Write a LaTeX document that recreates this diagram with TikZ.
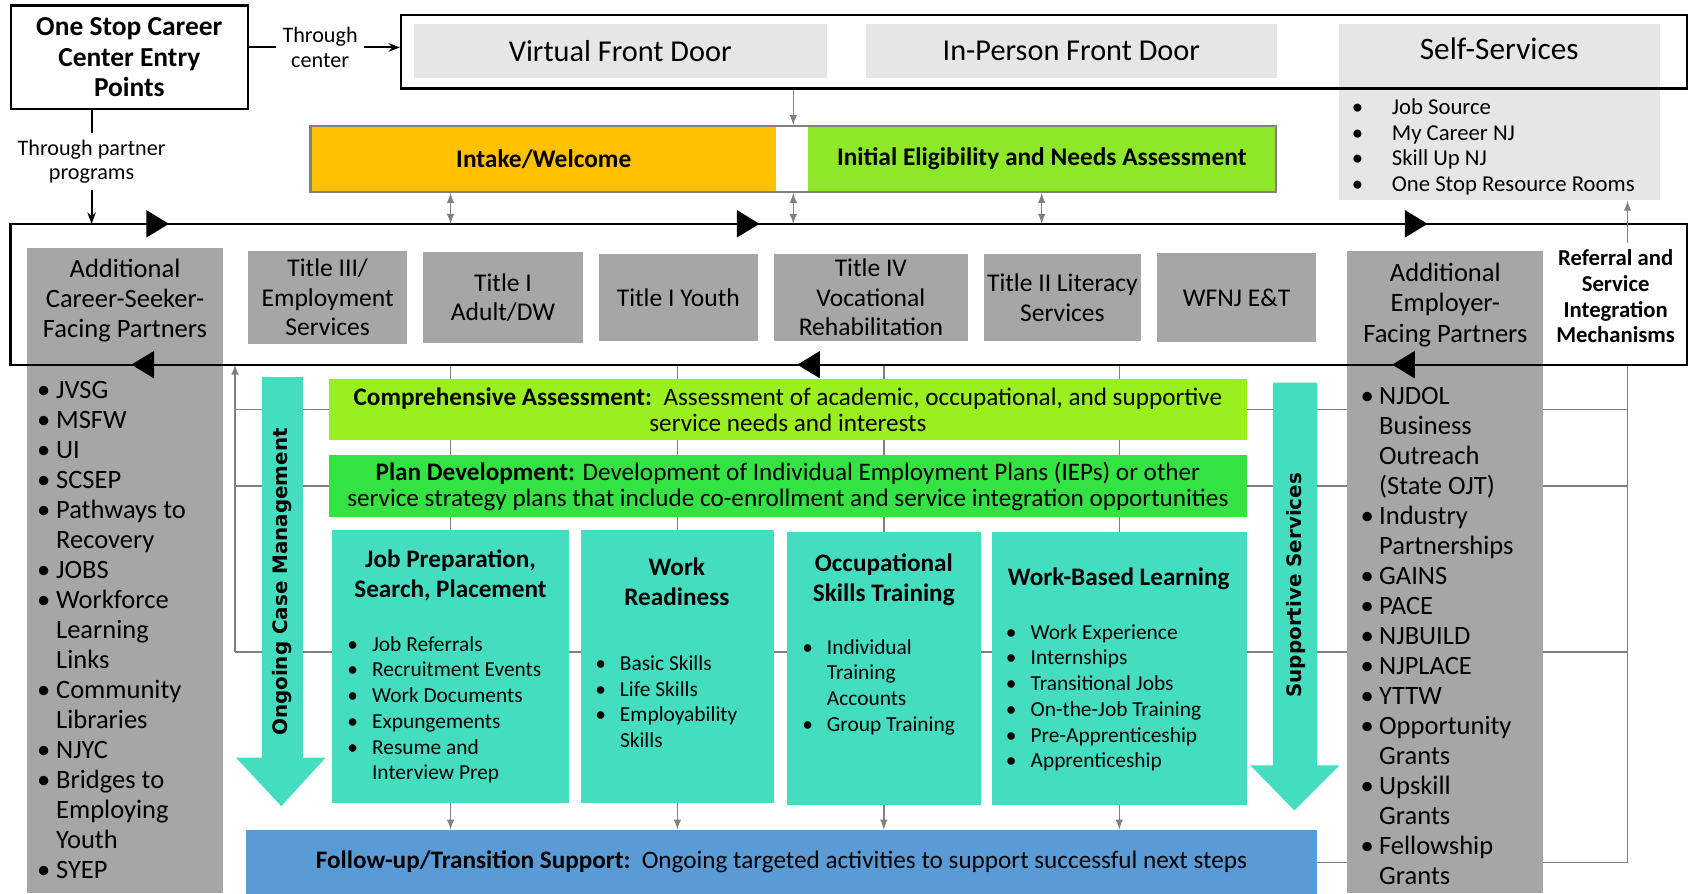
\documentclass[tikz,border=0pt]{standalone}
\usepackage{fontspec}
\setmainfont{Carlito}
\newfontfamily\widesans{DejaVu Sans}
\usetikzlibrary{arrows,arrows.meta,positioning,backgrounds,decorations.markings}

\definecolor{doorgray}{HTML}{E6E6E6}
\definecolor{partgray}{HTML}{A6A6A6}
\definecolor{linegray}{HTML}{808080}
\definecolor{intakeorange}{HTML}{FFC000}
\definecolor{needsgreen}{HTML}{8EE82A}
\definecolor{assessgreen}{HTML}{9AF01E}
\definecolor{plangreen}{HTML}{34E244}
\definecolor{serviceteal}{HTML}{44DDC0}
\definecolor{followblue}{HTML}{5B9BD5}

\tikzstyle{boxline}=[draw=black,line width=1.2pt]
\tikzstyle{door}=[rectangle,fill=doorgray,font=\fontsize{16}{19}\selectfont]
\tikzstyle{program}=[rectangle,fill=partgray,align=center,inner sep=0pt,
font=\fontsize{13.5}{15.6}\selectfont]
\tikzstyle{partner}=[rectangle,fill=partgray,inner sep=0pt]
\tikzstyle{band}=[rectangle,inner sep=0pt,font=\bfseries\fontsize{13.4}{15}\selectfont]
\tikzstyle{stage}=[rectangle,align=center,inner sep=0pt,font=\fontsize{13.3}{13.6}\selectfont]
\tikzstyle{service}=[rectangle,fill=serviceteal,inner sep=0pt]
\tikzstyle{servtitle}=[align=center,font=\bfseries\fontsize{13.3}{15.9}\selectfont]
\tikzstyle{bullets}=[anchor=base west,inner sep=0pt]
\tikzstyle{gridline}=[draw=linegray,line width=0.8pt]
\tikzstyle{flowarrow}=[fill=serviceteal]
\tikzstyle{sidelabel}=[rotate=90,font=\widesans\bfseries\fontsize{10.5}{12}\selectfont]

% bullet list: optional gap between bullet and text
\newcommand{\blist}[2][0.26cm]{\begin{tabular}[t]{@{}l@{\hspace{#1}}l@{}}#2\end{tabular}}

\begin{document}
\begin{tikzpicture}[x=0.02cm,y=-0.02cm,>=latex]
\useasboundingbox (0,0) rectangle (1568,829);

% entry points
\node[boxline,align=center,minimum width=4.4cm,minimum height=1.92cm,
  font=\bfseries\fontsize{14.5}{16}\selectfont] (entry) at (120,53) {One Stop Career\\Center Entry\\Points};
\node[align=center,font=\fontsize{11.7}{13}\selectfont] (thru) at (297,44) {Through\\center};
\node[align=center,font=\fontsize{11.7}{13}\selectfont] (thrupartner) at (85,150) {Through partner\\programs};

% front doors
\node[door,minimum width=5.96cm,minimum height=3.28cm] (selfserv) at (1391,104) {};
\node[boxline,minimum width=23.86cm,minimum height=1.36cm] (doors) at (968.5,48) {};
\node[door,minimum width=7.66cm,minimum height=1cm] (virtual) at (575.5,47) {Virtual Front Door};
\node[door,minimum width=7.64cm,minimum height=1cm] (inperson) at (994,47) {In-Person Front Door};
\node[font=\fontsize{16.5}{19}\selectfont] (selftitle) at (1391,45) {Self-Services};
\node[bullets,font=\fontsize{12}{13.6}\selectfont] (selflist) at (1254,106) {\blist[0.53cm]{
  \textbullet & Job Source\\
  \textbullet & My Career NJ\\
  \textbullet & Skill Up NJ\\
  \textbullet & One Stop Resource Rooms}};

% intake
\node[band,fill=intakeorange,minimum width=8.62cm,minimum height=1.22cm] (intake) at (504.5,147.5) {Intake/Welcome};
\node[band,fill=needsgreen,minimum width=8.66cm,minimum height=1.22cm] (needs) at (966.5,147.5) {Initial Eligibility and Needs Assessment};
\node[draw=linegray,line width=1.2pt,minimum width=17.92cm,minimum height=1.22cm] (intakeband) at (736,147.5) {};

% partner columns
\node[partner,minimum width=3.64cm,minimum height=11.98cm] (seekers) at (116,529.5) {};
\node[partner,minimum width=3.64cm,minimum height=11.92cm] (employers) at (1341,531) {};
\node[align=center,font=\fontsize{14}{15.9}\selectfont] (seekerstitle) at (116,279) {Additional\\Career-Seeker-\\Facing Partners};
\node[align=center,font=\fontsize{14}{15.9}\selectfont] (employerstitle) at (1341,283) {Additional\\Employer-\\Facing Partners};
\node[bullets,font=\fontsize{14}{15.84}\selectfont] (seekerslist) at (34,370) {\blist[0.11cm]{
  \textbullet & JVSG\\
  \textbullet & MSFW\\
  \textbullet & UI\\
  \textbullet & SCSEP\\
  \textbullet & Pathways to\\
   & Recovery\\
  \textbullet & JOBS\\
  \textbullet & Workforce\\
   & Learning\\
   & Links\\
  \textbullet & Community\\
   & Libraries\\
  \textbullet & NJYC\\
  \textbullet & Bridges to\\
   & Employing\\
   & Youth\\
  \textbullet & SYEP}};
\node[bullets,font=\fontsize{14}{15.84}\selectfont] (employerslist) at (1262,375) {\blist[0.1cm]{
  \textbullet & NJDOL\\
   & Business\\
   & Outreach\\
   & (State OJT)\\
  \textbullet & Industry\\
   & Partnerships\\
  \textbullet & GAINS\\
  \textbullet & PACE\\
  \textbullet & NJBUILD\\
  \textbullet & NJPLACE\\
  \textbullet & YTTW\\
  \textbullet & Opportunity\\
   & Grants\\
  \textbullet & Upskill\\
   & Grants\\
  \textbullet & Fellowship\\
   & Grants}};

% core programs
\node[program,minimum width=2.96cm,minimum height=1.72cm] (titleIII) at (304,276) {Title III/\\Employment\\Services};
\node[program,minimum width=2.96cm,minimum height=1.68cm,right=0.28cm of titleIII] (titleIadult) {Title I\\Adult/DW};
\node[program,minimum width=2.96cm,minimum height=1.62cm,right=0.28cm of titleIadult] (titleIyouth) {Title I Youth};
\node[program,minimum width=3.6cm,minimum height=1.62cm,right=0.28cm of titleIyouth] (titleIV) {Title IV\\Vocational\\Rehabilitation};
\node[program,minimum width=2.92cm,minimum height=1.62cm,right=0.28cm of titleIV] (titleII) {Title II Literacy\\Services};
\node[program,minimum width=2.96cm,minimum height=1.66cm,right=0.28cm of titleII] (wfnj) {WFNJ E\&T};
\node[align=center,font=\bfseries\fontsize{12}{13.6}\selectfont] (referral) at (1499,275) {Referral and\\Service\\Integration\\Mechanisms};

% hub with flow marks
\node[minimum width=31.1cm,minimum height=2.6cm] (hub) at (787.5,273) {};
\draw[boxline,postaction={decorate},decoration={markings,
  mark=at position 2.94cm with {\arrow{Triangle[length=0.42cm,width=0.5cm]}},
  mark=at position 13.9cm with {\arrow{Triangle[length=0.42cm,width=0.5cm]}},
  mark=at position 26.3cm with {\arrow{Triangle[length=0.42cm,width=0.5cm]}},
  mark=at position 39.2cm with {\arrow{Triangle[length=0.42cm,width=0.5cm]}},
  mark=at position 50.24cm with {\arrow{Triangle[length=0.42cm,width=0.5cm]}},
  mark=at position 62.6cm with {\arrow{Triangle[length=0.42cm,width=0.5cm]}}}]
  (hub.north west) -- (hub.north east) -- (hub.south east) -- (hub.south west) -- cycle;

% side arrows
\fill[flowarrow] (243,350) -- (281,350) -- (281,703) -- (302,703) -- (261,748) -- (219,703) -- (243,703) -- cycle;
\node[sidelabel] (casemgmt) at (262,540) {Ongoing Case Management};
\fill[flowarrow] (1181,355) -- (1222,355) -- (1222,710) -- (1243,710) -- (1201,752) -- (1160,710) -- (1181,710) -- cycle;
\node[sidelabel] (supportive) at (1202,543) {Supportive Services};

% assessment and plan
\node[stage,fill=assessgreen,minimum width=17.04cm,minimum height=1.12cm] (assess) at (731,380)
  {\textbf{Comprehensive Assessment:}\ \ Assessment of academic, occupational, and supportive\\service needs and interests};
\node[stage,fill=plangreen,minimum width=17.04cm,minimum height=1.16cm] (plan) at (731,451)
  {\textbf{Plan Development:} Development of Individual Employment Plans (IEPs) or other\\service strategy plans that include co-enrollment and service integration opportunities};

% services
\node[service,minimum width=4.4cm,minimum height=5.06cm] (jobprep) at (418,618.5) {};
\node[service,minimum width=3.58cm,minimum height=5.06cm] (ready) at (628.5,618.5) {};
\node[service,minimum width=3.6cm,minimum height=5.06cm] (occup) at (820,620.5) {};
\node[service,minimum width=4.74cm,minimum height=5.06cm] (wbl) at (1038.5,620.5) {};

\node[servtitle] (jobpreptitle) at (418,534) {Job Preparation,\\Search, Placement};
\node[servtitle] (readytitle) at (628,540) {Work\\Readiness};
\node[servtitle] (occuptitle) at (820,538) {Occupational\\Skills Training};
\node[servtitle] (wbltitle) at (1038,537) {Work-Based Learning};

\node[bullets,font=\fontsize{11.3}{13.6}\selectfont] (jobpreplist) at (322,604) {\blist{
  \textbullet & Job Referrals\\
  \textbullet & Recruitment Events\\
  \textbullet & Work Documents\\
  \textbullet & Expungements\\
  \textbullet & Resume and\\
   & Interview Prep}};
\node[bullets,font=\fontsize{11.3}{13.6}\selectfont] (readylist) at (552,622) {\blist{
  \textbullet & Basic Skills\\
  \textbullet & Life Skills\\
  \textbullet & Employability\\
   & Skills}};
\node[bullets,font=\fontsize{11.3}{13.6}\selectfont] (occuplist) at (744,607) {\blist{
  \textbullet & Individual\\
   & Training\\
   & Accounts\\
  \textbullet & Group Training}};
\node[bullets,font=\fontsize{11.3}{13.6}\selectfont] (wbllist) at (933,593) {\blist{
  \textbullet & Work Experience\\
  \textbullet & Internships\\
  \textbullet & Transitional Jobs\\
  \textbullet & On-the-Job Training\\
  \textbullet & Pre-Apprenticeship\\
  \textbullet & Apprenticeship}};

% follow-up
\node[stage,fill=followblue,minimum width=19.88cm,minimum height=1.18cm] (follow) at (725,799.5)
  {\textbf{Follow-up/Transition Support:}\ \ Ongoing targeted activities to support successful next steps};

% entry connectors
\draw[line width=1pt] (entry.east |- thru.west) -- (thru.west);
\draw[line width=1pt,-{Stealth[length=6pt]}] (thru.east) -- (thru.east -| doors.west);
\draw[line width=1pt] (entry.south -| thrupartner) -- (thrupartner.north);
\draw[line width=1pt,-{Stealth[length=6pt]}] (thrupartner.south) -- (thrupartner.south |- hub.north);

% gray connectors
\coordinate (spine) at (1510,800);
\coordinate (lspine) at (218,605);
\draw[gridline,-latex] (doors.south -| intakeband) -- (intakeband.north);
\foreach \n in {jobprep,intakeband,needs}
  \draw[gridline,latex-latex] (intakeband.south -| \n) -- (hub.north -| \n);
\draw[gridline,-latex] (referral.north -| spine) -- (selfserv.south -| spine);

\begin{scope}[on background layer]
\draw[gridline,-latex] (lspine) -- (lspine |- hub.south);
\draw[gridline] (hub.south -| spine) -- (spine) -- (spine -| follow.east);
\draw[gridline] (lspine |- assess) -- (spine |- assess);
\draw[gridline] (lspine |- plan) -- (spine |- plan);
\draw[gridline] (lspine) -- (lspine -| spine);
\foreach \n in {jobprep,ready,occup,wbl}
  \draw[gridline,-latex] (hub.south -| \n) -- (follow.north -| \n);
\end{scope}
\end{tikzpicture}
\end{document}
